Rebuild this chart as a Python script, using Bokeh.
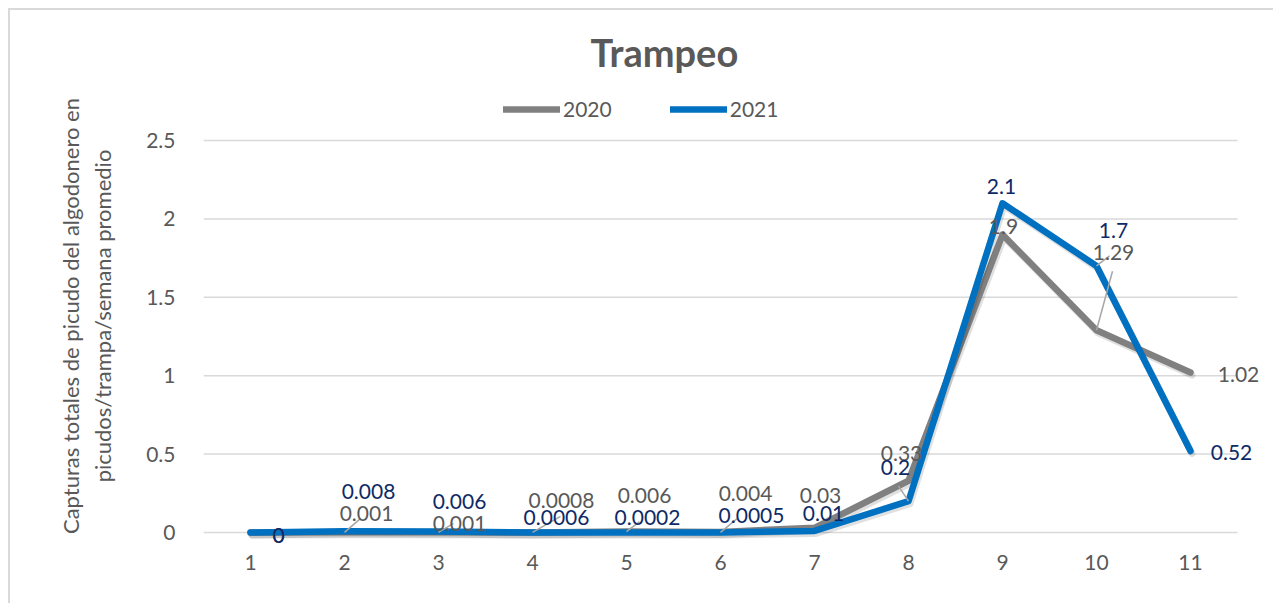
from bokeh.plotting import figure
from bokeh.models import (ColumnDataSource, Range1d, FixedTicker, CustomJSTickFormatter,
                          Legend, LegendItem)
from bokeh.core.properties import value
from bokeh.embed import file_html
from bokeh.resources import INLINE

# ---------------- data ----------------
weeks = [1, 2, 3, 4, 5, 6, 7, 8, 9, 10, 11]
y2020 = [0, 0.001, 0.001, 0.0008, 0.006, 0.004, 0.03, 0.33, 1.9, 1.29, 1.02]
y2021 = [0, 0.008, 0.006, 0.0006, 0.0002, 0.0005, 0.01, 0.2, 2.1, 1.7, 0.52]
series_names = ["2020", "2021"]
y_ticks = [0, 0.5, 1, 1.5, 2, 2.5]
title_text = "Trampeo"
y_label = "Capturas totales de picudo del algodonero en\npicudos/trampa/semana promedio"

# ---------------- layout / style ----------------
FONT = "Lato"
GRAY = "#808080"
BLUE = "#0070C0"
TXT = "#595959"
NAVY = "#0E2A66"
GRID = "#d9d9d9"

W, H = 1265, 595          # canvas placed at page (10, 10)
ML, MT, MR = 193, 78, 6
PXX, PXY = 94.0, 156.8    # pixels per category / per unit
X0 = 0.5
Y0 = -0.07
FW = W - ML - MR
FH = 455
MB = H - MT - FH
X1 = X0 + FW / PXX
Y1 = Y0 + FH / PXY
XE = 11.5                 # end of plot area (gridlines)

# label offsets in screen px (dx right, dy down)
off2020 = [(28, 3), (22, -19), (21, -9), (29, -32), (18, -36), (25, -38), (6, -32),
           (-7, -27), (1, -8), (17, -78), (48, 2)]
off2021 = [(28, 3), (24, -40), (21, -30), (24, -15), (21, -15), (31, -17), (9, -17),
           (-13, -34), (-1, -17), (17, -35), (41, 2)]
# leader lines: (series, index, dx px, dy px up)
leaders = [(0, 1, 15, 13), (0, 2, 15, 9), (1, 3, 28, 16), (0, 4, 13, 10), (1, 5, 17, 14),
           (1, 7, -10, 15), (0, 9, 16, 59), (1, 9, 13, 10)]

p = figure(width=W, height=H, output_backend="svg", toolbar_location=None,
           x_range=Range1d(X0, X1), y_range=Range1d(Y0, Y1),
           min_border_left=ML, min_border_right=MR, min_border_top=MT, min_border_bottom=MB)
p.styles = {"margin-left": "8px", "margin-top": "8px",
            "border-left": "2px solid #d9d9d9", "border-top": "2px solid #d9d9d9"}
p.outline_line_color = None
p.background_fill_color = "white"
p.border_fill_color = "white"

# axes
p.xaxis.ticker = FixedTicker(ticks=weeks)
p.xaxis.axis_line_color = None
p.xaxis.major_tick_line_color = None
p.xaxis.minor_tick_line_color = None
p.xaxis.major_label_standoff = 5
p.xaxis.major_label_text_font = FONT
p.xaxis.major_label_text_font_size = "21px"
p.xaxis.major_label_text_color = TXT

p.yaxis.ticker = FixedTicker(ticks=y_ticks)
p.yaxis.formatter = CustomJSTickFormatter(code="return tick.toString();")
p.yaxis.axis_line_color = None
p.yaxis.major_tick_line_color = None
p.yaxis.minor_tick_line_color = None
p.yaxis.major_label_standoff = 22
p.yaxis.major_label_text_font = FONT
p.yaxis.major_label_text_font_size = "21px"
p.yaxis.major_label_text_color = TXT
p.yaxis.axis_label = y_label
p.yaxis.axis_label_text_font = FONT
p.yaxis.axis_label_text_font_size = "22px"
p.yaxis.axis_label_text_font_style = "normal"
p.yaxis.axis_label_text_color = TXT
p.yaxis.axis_label_standoff = 27

p.xgrid.grid_line_color = None
p.ygrid.grid_line_color = None
# horizontal gridlines across the plot area only
p.segment(x0=[X0] * len(y_ticks), y0=y_ticks, x1=[XE] * len(y_ticks), y1=y_ticks,
          line_color=GRID, line_width=1.5)

# shadows + lines
sdx, sdy = 1.5 / PXX, -2.5 / PXY
p.line([x + sdx for x in weeks], [v + sdy for v in y2020], line_color="black", line_alpha=0.12,
       line_width=7, line_join="round", line_cap="round")
r20 = p.line(weeks, y2020, line_color=GRAY, line_width=6.5, line_join="round", line_cap="round")
p.line([x + sdx for x in weeks], [v + sdy for v in y2021], line_color="black", line_alpha=0.12,
       line_width=7, line_join="round", line_cap="round")
r21 = p.line(weeks, y2021, line_color=BLUE, line_width=6.5, line_join="round", line_cap="round")

# leader lines
data = [y2020, y2021]
lx0, ly0, lx1, ly1 = [], [], [], []
for s, i, dx, dy in leaders:
    lx0.append(weeks[i]); ly0.append(data[s][i])
    lx1.append(weeks[i] + dx / PXX); ly1.append(data[s][i] + dy / PXY)
p.segment(lx0, ly0, lx1, ly1, line_color="#a6a6a6", line_width=1.5)

# data labels
for vals, offs, col in [(y2020, off2020, TXT), (y2021, off2021, NAVY)]:
    src = ColumnDataSource(dict(x=weeks, y=vals, t=[f"{v:g}" for v in vals],
                                dx=[o[0] for o in offs], dy=[o[1] for o in offs]))
    p.text(x="x", y="y", text="t", x_offset="dx", y_offset="dy", source=src,
           text_align="center", text_baseline="middle", text_font=value(FONT),
           text_font_size="21px", text_color=col)

# legend inside the (extended) frame, above the plot area
legend = Legend(items=[LegendItem(label=series_names[0], renderers=[r20]),
                       LegendItem(label=series_names[1], renderers=[r21])],
                orientation="horizontal", location=(300, 422), padding=0, margin=0,
                spacing=58, glyph_width=57, glyph_height=20, label_standoff=3,
                label_text_font=FONT, label_text_font_size="21px", label_text_color=TXT,
                border_line_color=None, background_fill_alpha=0)
p.add_layout(legend)

p.title.text = title_text
p.title.align = "left"
p.title.offset = 387
p.title.standoff = 27
p.title.text_font = FONT
p.title.text_font_size = "38px"
p.title.text_font_style = "bold"
p.title.text_color = TXT

open("out.html", "w").write(file_html(p, INLINE))
